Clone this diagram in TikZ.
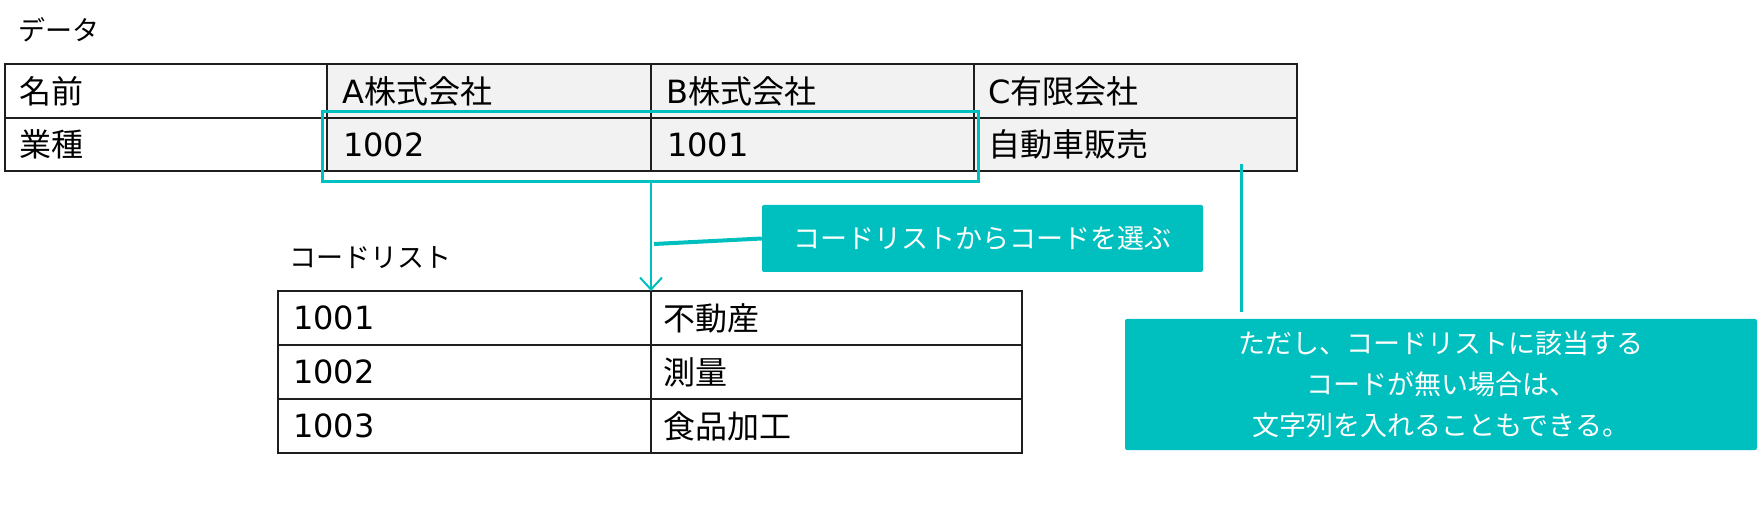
\documentclass[tikz,border=0pt]{standalone}
\usepackage{fontspec}
\setmainfont{Noto Sans CJK JP}
\newfontfamily\lat{DejaVu Sans}
\usetikzlibrary{arrows.meta,calc}
\definecolor{tealc}{RGB}{0,191,191}
\definecolor{cellgray}{RGB}{242,242,242}
\definecolor{rule}{RGB}{30,30,30}
\tikzset{
  cell/.style={draw=rule, line width=2pt, anchor=north west, minimum height=54pt, inner sep=0pt, outer sep=0pt},
  gcell/.style={cell, fill=cellgray},
  tabtxt/.style={anchor=west, inner sep=0pt, font=\fontsize{32}{38}\selectfont, text=black},
  lbl/.style={anchor=west, inner sep=0pt, font=\fontsize{27}{32}\selectfont, text=black},
  callout/.style={fill=tealc, rounded corners=2pt, inner sep=0pt, text=white, align=center, font=\fontsize{27}{41}\selectfont},
  tline/.style={draw=tealc, line width=#1},
}
\begin{document}
\begin{tikzpicture}[x=1pt,y=-1pt]
\useasboundingbox (0,0) rectangle (1763,526);
% label
\node[lbl] (ldata) at (18,30) {データ};
% data table
\node[cell, minimum width=322pt] (t11) at (5,64) {};
\node[gcell, minimum width=324pt] (t12) at (327,64) {};
\node[gcell, minimum width=323pt] (t13) at (651,64) {};
\node[gcell, minimum width=323pt] (t14) at (974,64) {};
\node[cell, minimum width=322pt, minimum height=53pt] (t21) at (5,118) {};
\node[gcell, minimum width=324pt, minimum height=53pt] (t22) at (327,118) {};
\node[gcell, minimum width=323pt, minimum height=53pt] (t23) at (651,118) {};
\node[gcell, minimum width=323pt, minimum height=53pt] (t24) at (974,118) {};
\node[tabtxt] (x11) at ([xshift=14pt]t11.west) {名前};
\node[tabtxt] (x12) at ([xshift=15pt]t12.west) {{\lat A}株式会社};
\node[tabtxt] (x13) at ([xshift=15pt]t13.west) {{\lat B}株式会社};
\node[tabtxt] (x14) at ([xshift=14pt]t14.west) {{\lat C}有限会社};
\node[tabtxt] (x21) at ([xshift=14pt]t21.west) {業種};
\node[tabtxt] (x22) at ([xshift=16pt]t22.west) {\lat 1002};
\node[tabtxt] (x23) at ([xshift=16pt]t23.west) {\lat 1001};
\node[tabtxt] (x24) at ([xshift=14pt]t24.west) {自動車販売};
% highlight
\node[draw=tealc, line width=3pt, minimum width=656pt, minimum height=70pt, anchor=north west, inner sep=0pt] (hl) at (321,110) {};
% code list
\node[lbl] (lcode) at (289,258) {コードリスト};
\node[cell, fill=white, minimum width=373pt] (c11) at (278,291) {};
\node[cell, fill=white, minimum width=371pt] (c12) at (651,291) {};
\node[cell, fill=white, minimum width=373pt] (c21) at (278,345) {};
\node[cell, fill=white, minimum width=371pt] (c22) at (651,345) {};
\node[cell, fill=white, minimum width=373pt] (c31) at (278,399) {};
\node[cell, fill=white, minimum width=371pt] (c32) at (651,399) {};
\node[tabtxt] (y11) at ([xshift=15pt]c11.west) {\lat 1001};
\node[tabtxt] (y21) at ([xshift=15pt]c21.west) {\lat 1002};
\node[tabtxt] (y31) at ([xshift=15pt]c31.west) {\lat 1003};
\node[tabtxt] (y12) at ([xshift=12pt]c12.west) {不動産};
\node[tabtxt] (y22) at ([xshift=12pt]c22.west) {測量};
\node[tabtxt] (y32) at ([xshift=12pt]c32.west) {食品加工};
% arrow
\draw[tline=2pt, -{Straight Barb[length=12pt,width=22pt,line width=2pt]}] (hl.south -| c12.north west) -- (c12.north west);
% callout 1
\node[callout, minimum width=441pt, minimum height=67pt] (co1) at (982.5,238.5) {コードリストからコードを選ぶ};
\coordinate (j1) at (654,244);
\draw[tline=4pt] (co1.west) -- (j1);
% callout 2
\node[callout, minimum width=632pt, minimum height=131pt] (co2) at (1441,384.5) {ただし、コードリストに該当する\\コードが無い場合は、\\文字列を入れることもできる。};
\coordinate (j2) at (1241,164);
\draw[tline=3pt, shorten >=7pt] (j2) -- (j2 |- co2.north);
\end{tikzpicture}
\end{document}
